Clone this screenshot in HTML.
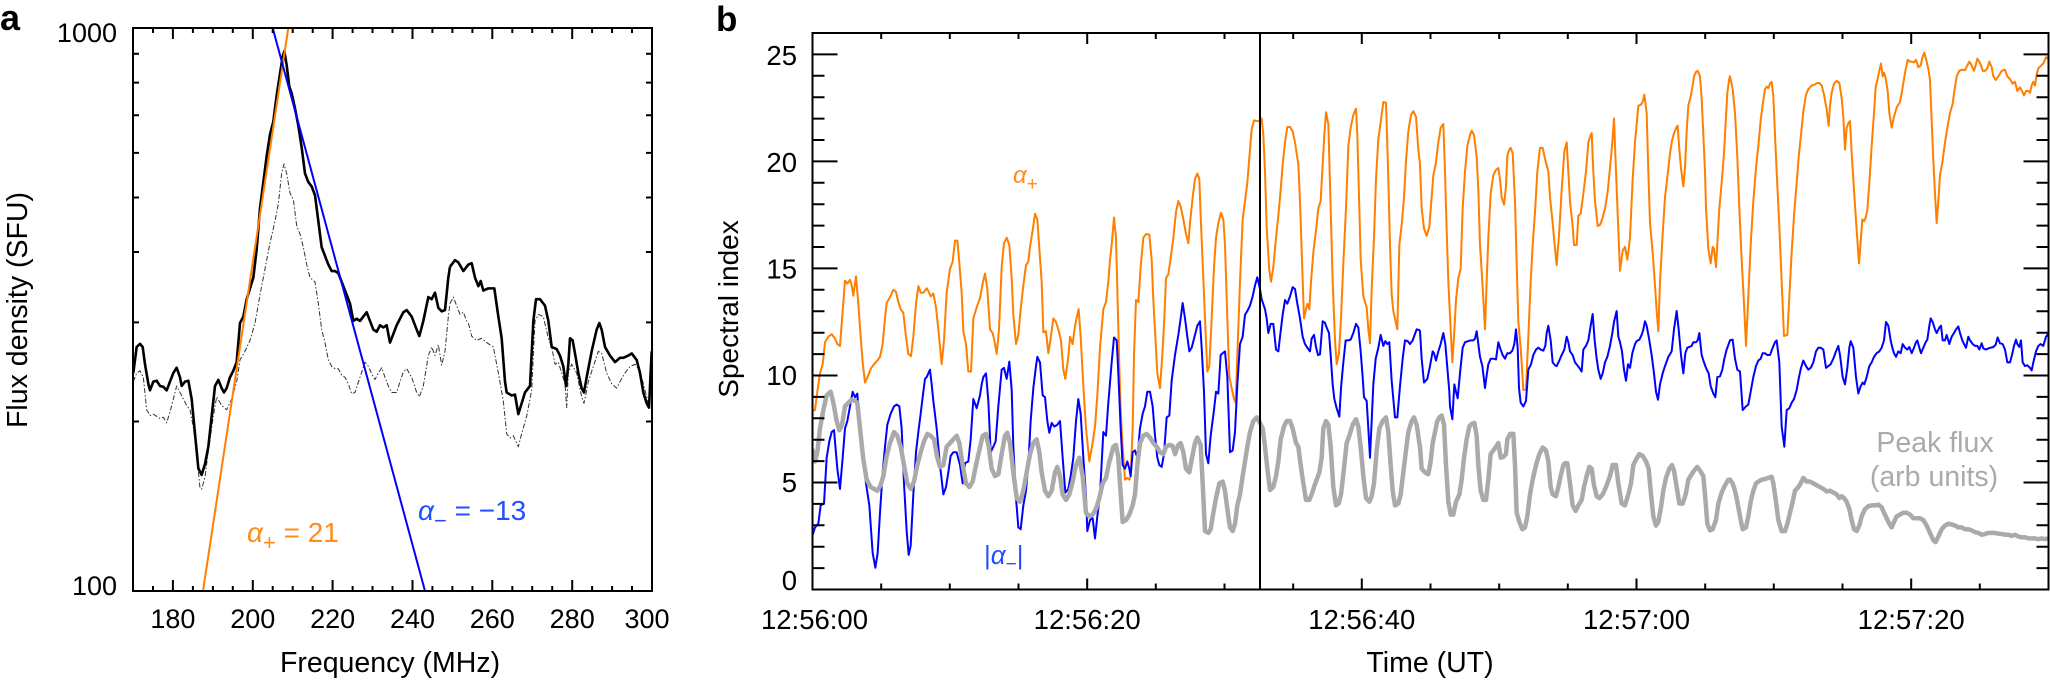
<!DOCTYPE html>
<html><head><meta charset="utf-8"><style>
html,body{margin:0;padding:0;background:#fff;}
svg{display:block;}
text{font-family:"Liberation Sans",Arial,Helvetica,sans-serif;}
</style></head><body>
<svg width="2050" height="680" viewBox="0 0 2050 680" xmlns="http://www.w3.org/2000/svg">
<defs>
<clipPath id="ca"><rect x="133" y="28" width="519" height="563"/></clipPath>
<clipPath id="cb"><rect x="812.5" y="33" width="1236" height="556.5"/></clipPath>
</defs>
<rect width="2050" height="680" fill="#fff"/>

<!-- ============ PANEL A ============ -->
<text x="0" y="30" font-size="36" font-weight="bold">a</text>

<g clip-path="url(#ca)" fill="none" stroke-linejoin="round">
  <g transform="scale(0.333333,0.433654)">
    <polyline vector-effect="non-scaling-stroke" stroke="#333" stroke-width="1" stroke-dasharray="5 2 1.5 2" points="400,880 410,860 420,855 430,870 440,945 450,958 460,955 470,960 480,965 490,962 500,975 510,950 520,920 530,890 540,905 550,920 560,935 570,945 580,985 590,1050 600,1125 605,1128 615,1100 625,1040 640,960 650,915 665,935 680,945 695,920 710,880 720,830 735,810 750,785 765,745 780,680 795,620 810,560 825,510 835,470 845,400 852,378 860,400 870,445 880,460 890,520 900,540 910,570 920,610 930,640 945,650 955,700 965,760 975,790 985,830 995,845 1005,850 1015,850 1025,865 1035,870 1045,885 1055,908 1065,905 1080,870 1095,835 1105,845 1115,862 1125,875 1135,860 1145,848 1155,870 1165,890 1175,905 1190,905 1200,880 1210,858 1220,850 1235,870 1250,905 1258,915 1270,890 1285,820 1295,800 1305,820 1315,795 1325,842 1335,810 1345,730 1350,700"/>
  </g>
  <g transform="translate(450,0) scale(0.333333,0.433654)">
    <polyline vector-effect="non-scaling-stroke" stroke="#333" stroke-width="1" stroke-dasharray="5 2 1.5 2" points="0,700 10,685 20,705 30,725 40,720 50,740 55,745 65,775 80,785 95,780 110,790 130,800 145,860 160,925 170,1000 180,1010 190,1005 205,1030 215,1000 230,960 245,900 255,740 265,725 280,730 295,780 305,800 315,840 325,835 335,860 345,885 350,940 355,860 365,840 380,860 395,915 402,930 415,880 430,845 445,810 455,815 470,860 485,885 500,895 510,880 525,860 540,845 555,840 570,855 585,900 597,935 605,830"/>
  </g>
  <g transform="scale(0.333333,0.433654)">
    <polyline vector-effect="non-scaling-stroke" stroke="#000" stroke-width="2.6" points="400,860 410,800 420,793 428,800 435,840 445,885 450,900 460,880 470,878 480,890 490,892 500,900 510,880 520,860 530,848 540,870 545,890 555,880 565,878 575,920 585,1000 595,1080 605,1095 615,1070 625,1030 635,960 645,890 655,876 665,895 672,905 680,895 690,870 700,855 710,835 720,745 730,730 740,690 750,665 760,640 770,575 780,480 790,420 800,360 810,310 820,280 830,220 840,170 848,130 853,118 860,150 868,200 875,215 885,250 895,290 905,340 915,400 925,420 935,430 945,450 955,510 965,570 975,590 985,610 995,625 1005,625 1015,630 1025,650 1040,680 1050,700 1060,740 1070,735 1080,740 1090,730 1100,720 1110,740 1120,760 1130,765 1140,750 1150,755 1160,750 1170,790 1180,770 1190,750 1200,735 1210,720 1220,715 1235,730 1250,760 1258,775 1270,740 1285,685 1295,690 1305,675 1315,710 1325,718 1335,715 1345,640 1350,615"/>
  </g>
  <g transform="translate(450,0) scale(0.333333,0.433654)">
    <polyline vector-effect="non-scaling-stroke" stroke="#000" stroke-width="2.6" points="0,615 15,600 25,605 40,625 55,610 65,607 75,640 85,660 92,648 100,670 115,665 133,665 145,730 155,780 165,880 170,905 185,912 195,910 205,955 215,930 225,905 240,890 250,740 258,690 270,690 285,705 295,740 300,770 305,800 320,805 330,820 340,845 348,890 355,840 360,780 368,785 375,815 385,860 395,895 402,905 410,870 425,810 440,760 448,745 455,760 465,800 480,820 495,835 510,825 520,825 535,820 545,815 560,830 570,860 580,905 590,930 597,940 605,810"/>
  </g>
  <line x1="203" y1="591" x2="288.3" y2="28" stroke="#ff7f00" stroke-width="2"/>
  <line x1="272.7" y1="28" x2="425" y2="591" stroke="#0000ff" stroke-width="2"/>
</g>

<rect x="133" y="28" width="519" height="563" fill="none" stroke="#000" stroke-width="2"/>
<path stroke="#000" stroke-width="2" fill="none" d="
M172.9 591v-11M252.8 591v-11M332.6 591v-11M412.5 591v-11M492.3 591v-11M572.2 591v-11
M172.9 28v11M252.8 28v11M332.6 28v11M412.5 28v11M492.3 28v11M572.2 28v11
M153 591v-5M192.9 591v-5M212.9 591v-5M232.8 591v-5M272.7 591v-5M292.7 591v-5M312.7 591v-5M352.6 591v-5M372.5 591v-5M392.5 591v-5M432.4 591v-5M452.4 591v-5M472.4 591v-5M512.3 591v-5M532.2 591v-5M552.2 591v-5M592.1 591v-5M612.1 591v-5M632 591v-5
M153 28v5M192.9 28v5M212.9 28v5M232.8 28v5M272.7 28v5M292.7 28v5M312.7 28v5M352.6 28v5M372.5 28v5M392.5 28v5M432.4 28v5M452.4 28v5M472.4 28v5M512.3 28v5M532.2 28v5M552.2 28v5M592.1 28v5M612.1 28v5M632 28v5
M133 421.5h6M133 322.4h6M133 252h6M133 197.5h6M133 152.9h6M133 115.2h6M133 82.6h6M133 53.8h6
M652 421.5h-6M652 322.4h-6M652 252h-6M652 197.5h-6M652 152.9h-6M652 115.2h-6M652 82.6h-6M652 53.8h-6"/>

<g font-size="27" fill="#000">
  <text x="117" y="42" text-anchor="end">1000</text>
  <text x="117" y="595" text-anchor="end">100</text>
  <text x="172.9" y="628" text-anchor="middle">180</text>
  <text x="252.8" y="628" text-anchor="middle">200</text>
  <text x="332.6" y="628" text-anchor="middle">220</text>
  <text x="412.5" y="628" text-anchor="middle">240</text>
  <text x="492.3" y="628" text-anchor="middle">260</text>
  <text x="572.2" y="628" text-anchor="middle">280</text>
  <text x="647" y="628" text-anchor="middle">300</text>
</g>
<text x="390" y="672" font-size="28.5" text-anchor="middle">Frequency (MHz)</text>
<text transform="translate(27,310) rotate(-90)" font-size="28.5" text-anchor="middle">Flux density (SFU)</text>

<text x="247" y="542" font-size="28" fill="#ff8c1a"><tspan font-style="italic">α</tspan><tspan font-size="22" dy="8">+</tspan><tspan dy="-8"> = 21</tspan></text>
<text x="418" y="520" font-size="28" fill="#1f4fff"><tspan font-style="italic">α</tspan><tspan font-size="22" dy="8">−</tspan><tspan dy="-8"> = −13</tspan></text>

<!-- ============ PANEL B ============ -->
<text x="716" y="31" font-size="35" font-weight="bold">b</text>

<g clip-path="url(#cb)" fill="none" stroke-linejoin="round" stroke-linecap="round">
  <g transform="translate(800,25) scale(0.333333,0.366716)">
    <polyline vector-effect="non-scaling-stroke" stroke="#ff7f00" stroke-width="2" points="38,1052 45,1050 52,1000 60,950 68,925 75,865 85,850 95,843 105,855 112,870 120,875 128,780 135,697 142,705 150,695 155,710 160,738 168,685 175,760 182,850 188,920 195,975 205,955 212,938 222,925 232,915 240,905 248,870 255,800 260,758 270,742 280,722 288,728 295,755 302,775 310,785 318,850 325,897 333,903 340,850 348,760 355,712 362,730 370,730 380,718 385,725 392,740 400,732 408,770 415,830 425,925 432,860 440,730 450,665 458,645 465,588 472,588 478,650 485,730 490,835 498,870 505,945 513,945 520,800 530,770 540,745 548,705 555,678 562,720 570,830 578,840 583,860 590,897 597,830 605,660 612,595 620,580 628,600 635,690 640,790 648,870 655,845 662,775 670,710 678,655 685,645 690,605 698,560 705,515 712,530 718,610 725,700 730,838 738,835 745,895 752,855 760,800 768,810 775,830 783,860 790,940 796,965 805,905 810,850 818,870 825,820 832,790 836,775 842,850 850,985 858,1100 868,1190 876,1150 885,1095 892,1010 900,880 910,775 918,755 925,700 930,640"/>
  </g>
  <g transform="translate(1110,25) scale(0.333333,0.366716)">
    <polyline vector-effect="non-scaling-stroke" stroke="#ff7f00" stroke-width="2" points="0,640 5,600 12,525 18,580 22,720 27,900 32,1050 38,1150 45,1240 52,1235 58,1240 62,1230 68,1100 72,900 78,750 85,755 92,660 100,580 108,570 118,572 125,640 130,750 136,850 142,950 150,990 157,900 163,800 168,690 175,680 182,635 190,580 198,510 205,480 212,495 220,530 228,570 235,595 240,540 248,470 255,420 262,405 268,420 272,520 278,650 285,800 292,945 298,930 305,800 312,660 318,580 325,540 333,512 340,530 345,600 352,800 358,960 365,990 372,1020 377,1030 382,900 390,700 398,530 405,480 412,430 420,340 425,285 432,260 440,262 447,262 455,255 460,300 465,400 470,550 478,670 483,700 490,660 498,580 505,520 512,450 518,380 525,320 532,278 540,278 548,290 555,320 565,380 570,480 577,670 582,800 588,775 592,760 598,775 603,700 610,620 618,560 625,500 632,480 638,380 643,300 648,238 655,270 662,500 668,700 675,860 680,925 687,895 693,800 700,650 708,500 715,330 722,280 730,245 738,228 742,300 748,500 752,640 760,740 770,770 775,830 780,868 785,720 792,580 798,420 805,310 812,265 820,210 828,212 835,420 840,600 845,735 850,780 857,810 862,830 868,600 875,545 882,470 888,370 895,290 903,245 910,235 918,250 925,340 930,380"/>
  </g>
  <g transform="translate(1420,25) scale(0.333333,0.366716)">
    <polyline vector-effect="non-scaling-stroke" stroke="#ff7f00" stroke-width="2" points="0,380 5,500 12,555 20,575 28,550 35,470 40,410 47,380 55,320 62,280 70,270 75,400 80,560 85,700 92,830 97,920 102,850 108,750 115,690 122,665 128,500 135,400 142,330 150,300 155,288 162,300 170,360 175,450 180,600 187,700 195,830 200,700 205,580 212,460 220,410 228,395 235,390 240,420 245,470 252,490 258,440 262,355 268,340 272,335 278,350 285,480 290,650 295,810 302,880 310,995 318,995 325,850 332,700 338,600 345,510 352,400 360,335 368,335 375,365 385,400 390,470 398,540 404,600 410,655 418,560 425,450 433,345 440,320 445,400 450,480 458,550 462,600 470,600 475,520 482,515 490,460 498,400 505,320 512,300 515,295 520,400 525,480 533,548 540,545 548,525 555,500 563,455 570,390 577,320 582,255 588,400 595,560 600,670 608,615 615,605 622,640 630,580 638,420 645,320 650,270 655,220 662,218 668,210 673,190 680,240 685,400 690,540 698,620 705,710 710,780 715,835 720,700 728,570 735,470 742,415 750,350 756,315 762,295 770,278 773,275 778,340 783,390 790,440 795,390 800,290 805,220 812,195 818,165 822,140 828,128 833,125 840,140 845,200 850,300 855,400 858,500 865,610 872,650 878,605 882,610 888,660 893,580 898,500 905,430 912,350 918,250 922,185 928,145 930,140"/>
  </g>
  <g transform="translate(1730,25) scale(0.333333,0.366716)">
    <polyline vector-effect="non-scaling-stroke" stroke="#ff7f00" stroke-width="2" points="0,140 8,175 15,240 22,360 28,500 35,640 42,760 48,875 55,740 62,600 70,480 78,390 85,330 92,260 100,205 105,175 110,168 115,172 120,160 125,155 130,195 135,300 140,400 148,550 155,700 162,848 172,845 178,740 185,620 192,520 200,430 207,350 213,300 220,235 228,190 235,175 245,165 255,162 262,158 268,158 275,165 282,190 290,230 296,275 300,220 305,185 312,160 320,152 328,158 335,200 340,250 345,340 350,280 355,268 360,262 365,350 372,450 380,560 387,650 393,580 397,530 402,535 407,525 412,505 418,430 425,330 432,240 437,170 442,150 448,125 453,105 458,140 462,130 467,145 473,180 478,240 485,280 492,250 500,225 510,210 518,170 525,130 533,95 540,100 545,100 552,102 558,95 565,115 572,110 577,90 583,75 590,100 595,120 600,150 605,260 610,370 615,460 620,540 625,480 630,410 638,370 645,320 652,280 660,240 668,215 673,180 680,140 688,125 695,122 705,123 712,110 718,100 725,110 732,125 737,110 742,92 748,100 753,110 758,125 765,125 772,118 778,100 785,115 790,140 797,150 805,140 815,125 825,122 832,140 840,148 848,160 855,155 862,180 870,170 877,182 882,192 888,180 895,180 900,185 905,165 910,155 915,165 920,135 925,118 932,112 940,105 948,88 955,92"/>
  </g>

  <g transform="translate(800,25) scale(0.333333,0.366716)">
    <polyline vector-effect="non-scaling-stroke" stroke="#0000ff" stroke-width="2" points="38,1390 45,1370 55,1360 62,1310 72,1305 80,1180 88,1135 95,1110 102,1105 112,1210 120,1265 128,1180 135,1100 142,1080 150,1040 158,1000 165,1015 172,1005 178,1090 188,1170 198,1250 208,1310 218,1440 226,1480 233,1440 240,1330 248,1220 255,1150 262,1090 272,1060 282,1040 290,1035 298,1040 305,1100 312,1250 320,1380 326,1445 332,1420 340,1280 348,1165 355,1110 362,1060 370,1000 375,965 380,960 390,940 395,980 400,1025 410,1100 420,1200 430,1280 438,1260 445,1220 452,1175 460,1165 470,1165 480,1200 488,1250 495,1195 505,1190 512,1130 520,1020 530,1045 540,1010 545,980 550,960 558,950 565,1025 572,1165 580,1150 587,1135 595,1040 605,940 612,935 620,965 628,918 635,995 640,1150 648,1290 655,1370 662,1375 670,1310 678,1270 685,1200 692,1080 700,990 708,930 712,905 720,920 728,1010 735,1015 742,1080 748,1112 755,1085 763,1095 772,1090 780,1080 788,1180 796,1275 805,1265 812,1230 820,1180 828,1080 835,1020 842,1060 850,1180 858,1285 862,1380 870,1350 878,1345 885,1400 892,1340 900,1280 910,1110 918,1120 925,1030 930,975"/>
  </g>
  <g transform="translate(1110,25) scale(0.333333,0.366716)">
    <polyline vector-effect="non-scaling-stroke" stroke="#0000ff" stroke-width="2" points="0,975 5,920 12,852 20,860 25,950 32,1100 38,1200 45,1210 52,1190 58,1210 62,1230 68,1165 75,1160 82,1180 90,1100 98,1060 105,1040 112,1000 120,1000 128,1040 135,1120 142,1180 148,1200 155,1205 162,1170 170,1070 178,1065 185,970 195,900 205,845 212,800 218,758 225,800 232,850 238,890 245,880 255,845 262,820 270,808 275,880 282,1000 288,1170 295,1195 302,1120 312,1050 318,1000 325,1005 332,900 338,895 345,890 352,960 360,1165 368,1160 375,1110 382,980 390,870 398,850 405,790 412,780 420,765 428,740 435,710 442,688 450,720 455,748 465,775 470,800 475,840 482,815 490,815 498,885 505,890 510,850 518,790 525,750 532,760 540,740 548,715 555,720 562,760 570,800 578,850 585,870 592,880 600,890 605,855 612,845 618,878 624,900 630,898 638,808 645,812 650,825 657,840 662,900 668,980 673,1020 680,1045 688,1068 693,990 700,920 707,860 715,860 722,858 730,840 738,815 745,825 752,890 758,960 762,1015 770,1025 775,1100 780,1180 785,1080 790,980 797,910 805,880 812,845 820,875 826,862 832,870 838,865 845,970 850,1020 855,1070 862,1070 870,985 878,910 885,860 893,862 900,870 908,860 915,842 920,830 928,832 930,835"/>
  </g>
  <g transform="translate(1420,25) scale(0.333333,0.366716)">
    <polyline vector-effect="non-scaling-stroke" stroke="#0000ff" stroke-width="2" points="0,835 5,910 12,975 22,965 30,930 38,890 42,895 48,915 55,890 62,870 70,840 76,870 82,935 88,1000 90,1040 97,1075 103,980 108,1000 113,1018 120,950 128,880 135,865 145,862 152,860 160,860 165,855 170,835 175,870 180,905 187,930 195,990 200,955 205,925 212,910 220,910 228,912 235,865 240,880 248,900 255,910 262,895 270,895 277,888 283,870 288,830 293,880 297,990 302,1030 310,1040 318,1025 325,940 333,925 340,900 348,885 355,880 362,885 370,888 376,875 380,840 385,820 392,860 398,920 405,928 410,930 418,915 425,900 433,885 440,850 445,865 450,890 458,900 465,920 472,928 478,935 485,945 490,885 498,875 505,860 512,820 518,788 524,860 530,910 535,940 542,965 548,950 555,920 562,905 570,875 577,840 582,810 590,780 595,850 600,865 606,890 612,940 618,970 624,925 630,935 637,895 645,870 650,862 658,858 665,845 670,830 675,808 680,820 688,860 695,900 702,950 708,1000 714,1022 720,980 728,950 735,930 745,905 755,890 762,830 770,780 776,830 783,900 790,950 796,895 802,880 808,878 815,875 820,865 828,865 833,860 838,840 845,900 852,920 858,935 866,950 872,985 880,1005 886,1015 892,960 900,958 907,940 913,910 920,885 928,865 930,860"/>
  </g>
  <g transform="translate(1730,25) scale(0.333333,0.366716)">
    <polyline vector-effect="non-scaling-stroke" stroke="#0000ff" stroke-width="2" points="0,860 8,858 15,910 22,940 30,945 38,1050 48,1040 55,1035 62,1000 70,960 78,930 85,915 92,910 98,895 105,895 112,900 120,900 128,880 135,865 140,860 148,920 155,1095 163,1150 170,1050 178,1045 185,1030 192,1020 200,995 207,960 213,935 220,915 228,930 235,940 242,935 250,920 258,890 265,880 272,880 280,885 288,935 295,930 302,925 310,910 318,890 325,875 330,900 338,960 345,980 352,935 358,880 362,862 370,880 378,960 385,1005 392,985 398,975 403,980 410,960 418,930 425,920 432,905 440,895 448,890 455,880 462,860 468,810 475,820 482,860 487,880 492,895 498,905 505,890 512,895 518,870 525,880 532,885 538,878 545,895 552,880 558,865 562,860 568,880 573,895 580,880 587,865 592,858 598,820 602,800 608,810 615,830 620,840 628,825 633,820 638,860 645,860 650,845 658,870 665,850 672,840 678,830 685,822 690,840 697,860 702,870 708,880 715,850 720,860 728,870 735,875 742,875 748,885 755,868 760,882 768,885 775,882 782,880 790,878 797,872 803,852 810,868 818,870 825,885 832,920 840,920 846,900 852,875 858,858 862,870 868,878 873,860 878,920 885,930 892,928 900,935 905,942 910,920 918,890 925,875 932,870 940,875 948,850 955,842"/>
  </g>

  <g transform="translate(800,25) scale(0.333333,0.366716)">
    <polyline vector-effect="non-scaling-stroke" stroke="#aaaaaa" stroke-width="4.5" points="38,1160 45,1190 52,1165 60,1100 70,1050 80,1010 92,1000 100,1030 110,1080 118,1105 126,1090 135,1040 145,1030 155,1022 165,1025 172,1030 180,1100 190,1185 200,1240 212,1260 222,1265 232,1270 242,1255 250,1230 260,1175 270,1140 282,1110 292,1120 302,1150 312,1200 322,1250 332,1265 342,1245 352,1200 362,1165 372,1135 382,1115 392,1120 402,1130 412,1180 420,1205 430,1200 440,1150 450,1140 460,1130 470,1120 478,1140 488,1200 498,1250 508,1260 518,1245 528,1200 538,1160 548,1120 558,1115 566,1150 575,1210 585,1230 595,1225 605,1170 615,1120 622,1112 630,1140 640,1220 650,1290 660,1300 670,1270 680,1220 690,1170 700,1140 710,1130 718,1165 725,1220 735,1270 745,1285 755,1270 765,1220 772,1205 780,1230 788,1280 798,1295 808,1280 818,1245 828,1200 838,1180 848,1230 858,1330 868,1340 878,1335 888,1320 898,1290 908,1250 918,1235 928,1190 930,1185"/>
  </g>
  <g transform="translate(1110,25) scale(0.333333,0.366716)">
    <polyline vector-effect="non-scaling-stroke" stroke="#aaaaaa" stroke-width="4.5" points="0,1185 10,1150 18,1145 25,1180 30,1250 38,1355 48,1350 58,1335 68,1310 75,1280 82,1200 90,1140 100,1120 110,1115 120,1125 130,1140 140,1150 150,1165 160,1170 168,1150 178,1145 188,1148 195,1170 205,1145 212,1140 220,1165 228,1210 238,1220 245,1185 255,1140 262,1125 272,1145 278,1250 285,1380 295,1385 302,1375 310,1330 318,1290 328,1250 338,1245 345,1270 352,1320 360,1370 368,1380 375,1360 382,1310 390,1280 398,1230 405,1190 412,1150 420,1110 430,1080 440,1070 450,1085 458,1100 465,1150 472,1210 480,1268 490,1260 498,1230 505,1190 512,1130 522,1095 530,1080 540,1080 548,1100 558,1140 565,1150 572,1200 580,1250 588,1295 598,1295 605,1280 612,1260 620,1240 628,1220 635,1180 640,1100 648,1080 655,1090 662,1150 670,1260 678,1310 686,1305 693,1280 700,1225 710,1140 718,1120 728,1090 738,1075 745,1095 752,1150 760,1230 768,1290 778,1300 785,1285 792,1250 800,1160 808,1100 818,1080 828,1070 835,1110 842,1200 848,1270 855,1310 865,1305 872,1280 880,1220 888,1160 895,1110 905,1080 912,1070 920,1090 928,1140 930,1150"/>
  </g>
  <g transform="translate(1420,25) scale(0.333333,0.366716)">
    <polyline vector-effect="non-scaling-stroke" stroke="#aaaaaa" stroke-width="4.5" points="0,1150 5,1210 15,1220 25,1225 32,1190 38,1140 45,1110 52,1080 58,1070 65,1065 72,1090 78,1200 85,1300 92,1335 100,1335 108,1300 118,1280 125,1240 132,1180 140,1130 148,1095 155,1088 163,1085 170,1120 175,1200 182,1270 190,1295 198,1295 205,1240 212,1170 220,1160 228,1150 235,1140 242,1180 250,1178 258,1170 262,1130 270,1115 280,1115 285,1200 290,1330 298,1355 307,1375 315,1370 322,1340 330,1280 338,1240 348,1200 358,1170 368,1152 378,1160 385,1190 392,1260 398,1280 408,1285 415,1260 422,1230 430,1200 435,1195 442,1195 450,1250 458,1310 467,1325 475,1310 485,1295 492,1260 500,1230 508,1205 515,1210 522,1255 530,1285 538,1290 548,1280 558,1260 570,1230 578,1200 588,1200 595,1250 605,1305 615,1310 625,1280 633,1250 640,1200 648,1185 658,1170 668,1175 678,1190 686,1210 692,1270 700,1340 708,1365 715,1355 722,1320 730,1270 738,1235 748,1210 756,1200 762,1215 770,1260 778,1305 788,1305 797,1280 805,1240 815,1225 825,1212 832,1205 840,1215 850,1230 855,1280 862,1360 870,1378 878,1375 888,1350 895,1305 905,1275 915,1255 925,1240 930,1240"/>
  </g>
  <g transform="translate(1730,25) scale(0.333333,0.366716)">
    <polyline vector-effect="non-scaling-stroke" stroke="#aaaaaa" stroke-width="4.5" points="0,1240 8,1250 15,1270 22,1300 30,1340 38,1375 48,1370 55,1340 62,1300 70,1270 78,1250 85,1245 95,1240 105,1238 115,1235 125,1232 130,1250 138,1300 145,1350 155,1380 165,1380 172,1360 180,1330 188,1300 195,1270 205,1260 212,1250 220,1235 230,1245 240,1245 250,1250 260,1255 270,1260 280,1265 290,1272 300,1270 310,1275 320,1280 328,1290 335,1285 342,1290 350,1300 358,1320 365,1350 372,1375 380,1380 388,1365 395,1340 405,1320 415,1312 425,1310 435,1310 445,1308 455,1315 462,1330 470,1345 478,1360 485,1370 492,1355 500,1340 510,1335 520,1330 530,1330 540,1335 550,1345 560,1345 570,1345 580,1350 590,1365 600,1385 610,1405 617,1410 625,1395 635,1375 645,1365 655,1360 665,1362 675,1365 685,1370 695,1370 705,1375 715,1375 725,1378 735,1383 745,1385 755,1390 765,1388 775,1385 785,1385 795,1385 805,1387 815,1388 825,1390 835,1390 845,1393 855,1390 865,1395 875,1397 885,1397 895,1400 905,1400 915,1400 925,1402 935,1400 945,1402 955,1400"/>
  </g>
</g>

<line x1="1260" y1="33" x2="1260" y2="589.5" stroke="#000" stroke-width="2"/>

<rect x="812.5" y="33" width="1236" height="556.5" fill="none" stroke="#000" stroke-width="2"/>
<path stroke="#000" stroke-width="2" fill="none" d="
M1087.2 589.5v-11M1361.8 589.5v-11M1636.5 589.5v-11M1911.2 589.5v-11
M1087.2 33v11M1361.8 33v11M1636.5 33v11M1911.2 33v11
M881.2 589.5v-6M949.8 589.5v-6M1018.5 589.5v-6M1155.8 589.5v-6M1224.5 589.5v-6M1293.2 589.5v-6M1430.5 589.5v-6M1499.2 589.5v-6M1567.8 589.5v-6M1705.2 589.5v-6M1773.8 589.5v-6M1842.5 589.5v-6M1979.8 589.5v-6
M881.2 33v6M949.8 33v6M1018.5 33v6M1155.8 33v6M1224.5 33v6M1293.2 33v6M1430.5 33v6M1499.2 33v6M1567.8 33v6M1705.2 33v6M1773.8 33v6M1842.5 33v6M1979.8 33v6
M812.5 482.5h25M812.5 375.5h25M812.5 268.4h25M812.5 161.4h25M812.5 54.4h25
M2048.5 482.5h-25M2048.5 375.5h-25M2048.5 268.4h-25M2048.5 161.4h-25M2048.5 54.4h-25
M812.5 568.1h12M812.5 546.7h12M812.5 525.3h12M812.5 503.9h12M812.5 461.1h12M812.5 439.7h12M812.5 418.3h12M812.5 396.9h12M812.5 354.1h12M812.5 332.7h12M812.5 311.3h12M812.5 289.8h12M812.5 247h12M812.5 225.6h12M812.5 204.2h12M812.5 182.8h12M812.5 140h12M812.5 118.6h12M812.5 97.2h12M812.5 75.8h12
M2048.5 568.1h-12M2048.5 546.7h-12M2048.5 525.3h-12M2048.5 503.9h-12M2048.5 461.1h-12M2048.5 439.7h-12M2048.5 418.3h-12M2048.5 396.9h-12M2048.5 354.1h-12M2048.5 332.7h-12M2048.5 311.3h-12M2048.5 289.8h-12M2048.5 247h-12M2048.5 225.6h-12M2048.5 204.2h-12M2048.5 182.8h-12M2048.5 140h-12M2048.5 118.6h-12M2048.5 97.2h-12M2048.5 75.8h-12"/>

<g font-size="27.5" fill="#000">
  <text x="797" y="65" text-anchor="end">25</text>
  <text x="797" y="172" text-anchor="end">20</text>
  <text x="797" y="278.5" text-anchor="end">15</text>
  <text x="797" y="385" text-anchor="end">10</text>
  <text x="797" y="492" text-anchor="end">5</text>
  <text x="797" y="590" text-anchor="end">0</text>
  <text x="814.5" y="629" text-anchor="middle">12:56:00</text>
  <text x="1087.2" y="629" text-anchor="middle">12:56:20</text>
  <text x="1361.8" y="629" text-anchor="middle">12:56:40</text>
  <text x="1636.5" y="629" text-anchor="middle">12:57:00</text>
  <text x="1911.2" y="629" text-anchor="middle">12:57:20</text>
</g>
<text x="1430" y="672" font-size="28.5" text-anchor="middle">Time (UT)</text>
<text transform="translate(738,309) rotate(-90)" font-size="28" text-anchor="middle">Spectral index</text>

<text x="1013" y="183" font-size="24" fill="#ff8c1a"><tspan font-style="italic">α</tspan><tspan font-size="19" dy="7">+</tspan></text>
<text x="984" y="564" font-size="26" fill="#1f4fff">|<tspan font-style="italic">α</tspan><tspan font-size="19" dy="6">−</tspan><tspan dy="-6">|</tspan></text>
<text x="1935" y="452" font-size="28.5" fill="#aaaaaa" text-anchor="middle">Peak flux</text>
<text x="1934" y="486" font-size="28.5" fill="#aaaaaa" text-anchor="middle">(arb units)</text>
</svg>
</body></html>
